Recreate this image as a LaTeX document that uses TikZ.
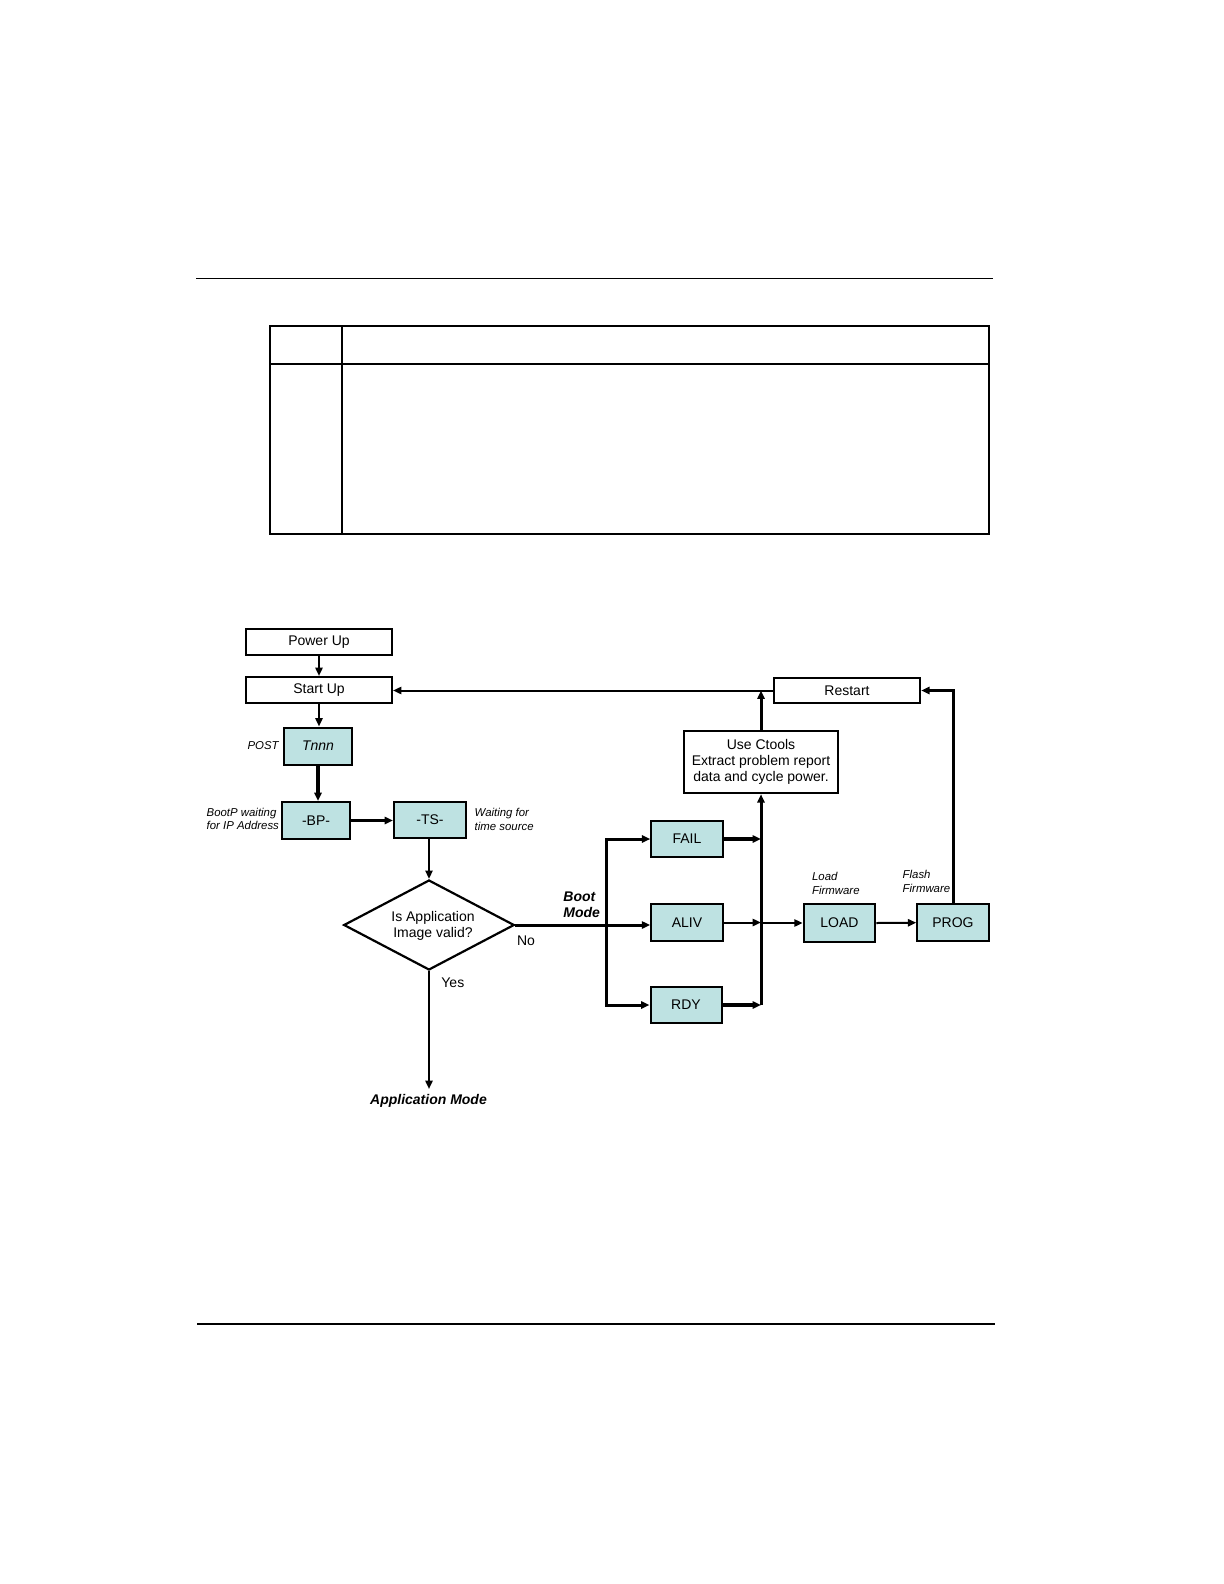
\documentclass[tikz,border=0pt]{standalone}
\usepackage{fontspec}
\setmainfont{Liberation Sans}
\usetikzlibrary{arrows.meta,shapes.geometric,calc}
\definecolor{boxfill}{RGB}{190,226,226}
\tikzset{
  tip/.style={-{Triangle[length=4.2pt,width=3.6pt]}},
  wbox/.style={draw, line width=1pt, fill=white, inner sep=0pt, font=\fontsize{7}{8}\selectfont},
  cbox/.style={draw, line width=1pt, fill=boxfill, inner sep=0pt, font=\fontsize{7}{8}\selectfont},
  note/.style={inner sep=0pt, align=left, font=\fontsize{5.7}{6.9}\selectfont\itshape},
  plain/.style={inner sep=0pt, font=\fontsize{7}{8}\selectfont},
  bolds/.style={inner sep=0pt, align=left, font=\fontsize{7}{8}\selectfont\bfseries\itshape},
  lnA/.style={line width=1pt},
  lnB/.style={line width=1.5pt},
  lnC/.style={line width=1.6pt},
}
\begin{document}
\begin{tikzpicture}[x=0.5pt,y=-0.5pt]
\useasboundingbox (0,0) rectangle (1224,1584);
% page rules and empty table
\draw[line width=0.7pt] (196,278.3) -- (993,278.3);
\draw[line width=1.2pt] (197,1324) -- (995,1324);
\draw[line width=1pt] (269.5,326) rectangle (989,534);
\draw[line width=1pt] (342,326) -- (342,534);
\draw[line width=1pt] (269.5,364.3) -- (989,364.3);

% nodes
\node[wbox, minimum width=73pt, minimum height=13pt] (pu) at (319,642) {Power Up};
\node[wbox, minimum width=73pt, minimum height=13pt] (su) at (319,690) {Start Up};
\node[cbox, minimum width=34pt, minimum height=18.5pt] (tn) at (318,746) {\itshape Tnnn};
\node[cbox, minimum width=33.7pt, minimum height=18.5pt] (bp) at (316,820.5) {-BP-};
\node[cbox, minimum width=36pt, minimum height=18.3pt] (ts) at (430,820) {-TS-};
\node[draw, diamond, line width=1.1pt, inner sep=0pt, minimum width=85.3pt, minimum height=45pt, fill=white] (dia) at (429,925) {};
\node[plain, align=center, font=\fontsize{7}{8.2}\selectfont] (diat) at (433,926) {Is Application\\Image valid?};
\node[cbox, minimum width=35.7pt, minimum height=18.3pt] (fail) at (687,839) {FAIL};
\node[cbox, minimum width=35.8pt, minimum height=18.3pt] (aliv) at (687,922.5) {ALIV};
\node[cbox, minimum width=35.5pt, minimum height=18.3pt] (rdy) at (686,1005) {RDY};
\node[cbox, minimum width=35.8pt, minimum height=18.7pt] (load) at (839.5,923) {LOAD};
\node[cbox, minimum width=35.7pt, minimum height=18.7pt] (prog) at (953,922.7) {PROG};
\node[wbox, minimum width=73.2pt, minimum height=12.8pt] (restart) at (847,690.5) {Restart};
\node[wbox, minimum width=77.2pt, minimum height=31.2pt, align=center, font=\fontsize{7}{7.9}\selectfont] (ctools) at (761,762) {Use Ctools\\Extract problem report\\data and cycle power.};
\node[bolds, align=center] (am) at (428.5,1101) {Application Mode};
\coordinate (amtop) at (429,1089);
\coordinate (brx) at (606.7,925);

% labels
\node[note, anchor=east] (post) at (279,745.7) {POST};
\node[note, anchor=west] (bootp) at (206.3,819) {BootP waiting\\for IP Address};
\node[note, anchor=west] (wait) at (474.3,819.3) {Waiting for\\time source};
\node[bolds, anchor=west] (boot) at (563,905) {Boot\\Mode};
\node[plain, anchor=west] (no) at (516.7,941) {No};
\node[plain, anchor=west] (yes) at (441,983) {Yes};
\node[note, anchor=west] (ldfw) at (811.7,883.7) {Load\\Firmware};
\node[note, anchor=west] (flfw) at (902.3,881.7) {Flash\\Firmware};

% connectors
\draw[lnA,tip] (pu.south) -- (pu.south |- su.north);
\draw[lnA,tip] (su.south) -- (su.south |- tn.north);
\draw[lnC,tip] (tn.south) -- (tn.south |- bp.north);
\draw[lnC,tip] (bp.east) -- (bp.east -| ts.west);
\draw[lnA,tip] (dia.north |- ts.south) -- (dia.north);
\draw[lnA,tip] (dia.south) -- (amtop);
\draw[lnB,tip] (dia.east) -- (dia.east -| aliv.west);
\draw[lnB,tip] (brx |- rdy.west) -- (brx |- fail.west) -- (fail.west);
\draw[lnB,tip] (brx |- dia.east) |- (rdy.west);
\draw[lnC,tip] (fail.east) -- (fail.east -| ctools.south);
\draw[lnA,tip] (aliv.east) -- (aliv.east -| ctools.south);
\draw[lnC,tip] (rdy.east) -- (rdy.east -| ctools.south);
\draw[lnB,tip] (ctools.south |- rdy.east) -- (ctools.south);
\draw[lnA,tip] (load.west -| ctools.south) -- (load.west);
\draw[lnA,tip] (load.east) -- (prog.west);
\draw[lnB,tip] (prog.north) |- (restart.east);
\draw[lnA,tip] (restart.west) -- (su.east |- restart.west);
\draw[lnB,tip] (ctools.north) -- (ctools.north |- restart.west);
\end{tikzpicture}
\end{document}
